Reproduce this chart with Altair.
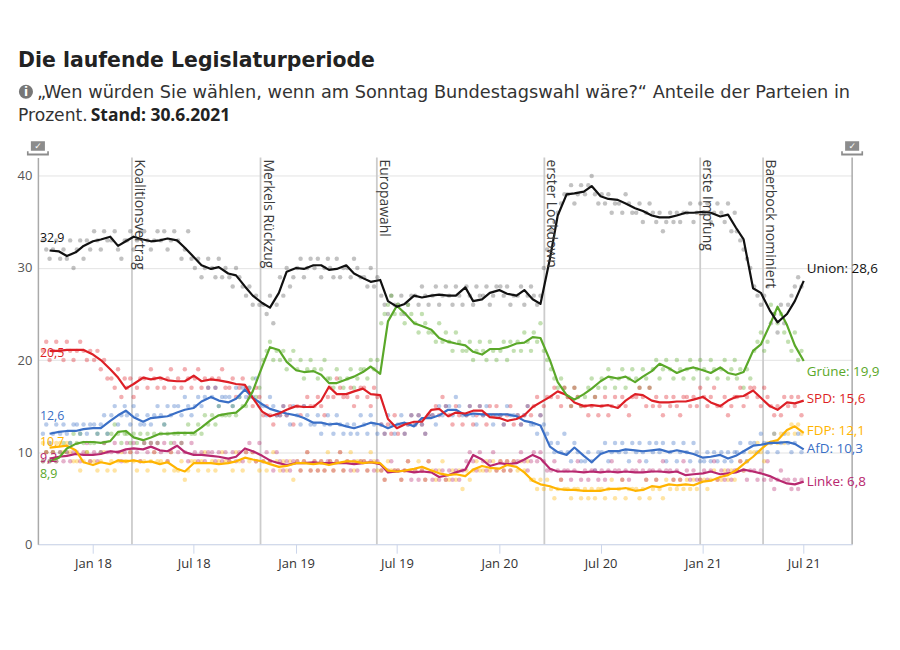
import altair as alt
import pandas as pd


def month_list(y0, m0, y1, m1):
    out = []
    y, m = y0, m0
    while (y, m) <= (y1, m1):
        out.append((y, m))
        m += 1
        if m > 12:
            y, m = y + 1, 1
    return out


# ---------------- data ----------------
PARTIES = ["Union", "Grüne", "SPD", "FDP", "AfD", "Linke"]
LINE_COLORS = ["#111111", "#5aa829", "#dd1f26", "#ffb400", "#3a6fc6", "#b8286f"]
DOT_COLORS = ["#555555", "#5aa829", "#dd1f26", "#ffb400", "#3a6fc6", "#b8286f"]

# smoothed trend, sampled on the 1st and 15th of each month
GRID_DATES = (["2017-10-15"]
              + [f"{y}-{m:02d}-{d:02d}" for (y, m) in month_list(2017, 11, 2021, 6) for d in (1, 15)]
              + ["2021-07-01"])

UNION = [31.9, 31.8, 31.3, 31.7, 32.4, 32.9, 33.1, 33.4, 32.4, 32.9, 33.4, 33.1, 32.9, 33.0, 33.2,
         33.0, 32.2, 31.2, 30.3, 29.9, 30.1, 29.4, 29.2, 28.0, 27.0, 26.2, 25.7, 27.3, 29.6, 30.0,
         29.9, 30.3, 30.3, 29.8, 29.9, 30.3, 29.4, 28.9, 28.5, 28.7, 26.4, 25.8, 26.1, 27.0, 26.8,
         27.0, 27.1, 27.0, 27.0, 27.9, 26.4, 26.6, 27.3, 27.6, 27.2, 27.0, 27.6, 26.6, 26.1, 31.0,
         35.7, 38.0, 38.1, 38.3, 38.9, 37.8, 37.5, 37.4, 37.0, 36.5, 36.2, 35.7, 35.5, 35.5, 35.7,
         36.0, 36.0, 36.1, 36.0, 35.6, 35.8, 34.4, 33.1, 27.8, 27.3, 25.4, 24.1, 25.0, 26.4, 28.6]
GRUENE = [9.0, 9.4, 10.4, 10.9, 11.1, 11.1, 11.0, 11.2, 12.2, 12.3, 11.6, 11.3, 11.6, 12.0, 12.0,
          12.1, 12.1, 12.1, 12.7, 13.5, 14.0, 14.2, 14.3, 15.1, 16.6, 19.3, 21.4, 21.1, 19.8, 18.9,
          18.7, 18.8, 18.4, 17.5, 17.5, 17.9, 18.2, 18.7, 19.3, 18.5, 24.2, 25.9, 25.1, 24.0, 23.7,
          23.3, 22.4, 22.0, 21.8, 21.6, 20.9, 20.6, 21.2, 21.2, 21.4, 21.8, 21.9, 22.5, 22.4, 20.0,
          17.6, 16.2, 15.7, 16.3, 16.9, 17.7, 18.2, 18.0, 18.2, 17.6, 18.2, 18.8, 19.6, 19.1, 18.6,
          19.0, 19.2, 18.9, 18.6, 19.2, 18.6, 18.4, 18.7, 21.0, 21.7, 23.8, 25.8, 23.8, 21.6, 19.9]
SPD = [21.0, 21.0, 21.1, 21.1, 21.1, 20.6, 20.0, 19.0, 18.1, 16.9, 17.4, 18.1, 17.9, 18.1, 17.8,
       17.7, 17.7, 18.3, 17.7, 17.9, 17.8, 17.6, 17.4, 17.3, 15.9, 14.4, 13.9, 14.2, 14.6, 15.0,
       14.9, 14.9, 15.6, 17.1, 16.3, 16.3, 16.6, 16.9, 16.3, 16.2, 13.6, 12.6, 13.0, 13.3, 13.3,
       14.6, 14.7, 13.9, 14.3, 14.2, 14.5, 14.5, 13.8, 13.7, 13.4, 13.6, 14.0, 14.9, 15.4, 16.0,
       16.6, 16.2, 15.4, 15.0, 15.1, 15.0, 15.1, 14.8, 15.6, 16.3, 16.2, 15.6, 15.4, 15.4, 15.5,
       15.5, 15.7, 16.0, 15.4, 15.0, 15.6, 16.0, 16.1, 16.7, 15.9, 15.0, 14.6, 15.4, 15.3, 15.6]
FDP = [10.5, 10.6, 10.7, 10.2, 8.9, 8.6, 8.9, 8.7, 9.1, 9.0, 9.1, 8.9, 9.0, 8.7, 8.9,
       8.2, 7.9, 8.8, 8.8, 8.8, 8.7, 8.8, 9.0, 9.4, 9.2, 9.0, 8.7, 8.4, 8.5, 8.8,
       8.8, 8.7, 8.8, 8.6, 8.8, 9.0, 9.0, 8.8, 8.9, 8.8, 8.0, 7.9, 8.0, 8.2, 8.4,
       8.0, 7.7, 7.5, 7.6, 7.4, 8.1, 8.5, 8.3, 8.2, 8.6, 8.4, 7.8, 6.9, 6.5, 6.3,
       6.0, 5.9, 5.9, 5.8, 5.8, 5.8, 6.0, 6.0, 6.1, 5.8, 5.9, 6.3, 6.2, 6.5, 6.4,
       6.5, 6.4, 6.8, 6.9, 7.3, 7.5, 8.0, 8.7, 9.5, 10.3, 11.1, 11.3, 12.4, 12.8, 12.1]
AFD = [12.0, 12.2, 12.3, 12.3, 12.5, 12.6, 12.6, 13.4, 14.0, 14.5, 13.8, 13.3, 13.7, 13.8, 13.9,
       14.3, 14.6, 14.8, 15.5, 16.0, 15.6, 15.4, 15.8, 16.8, 15.9, 15.2, 14.7, 14.4, 14.2, 14.0,
       13.7, 13.2, 13.2, 13.0, 13.1, 12.8, 12.6, 12.9, 13.2, 13.0, 12.6, 13.0, 13.2, 12.8, 13.7,
       13.7, 14.0, 14.6, 14.6, 14.0, 14.2, 14.1, 14.1, 14.1, 14.1, 13.9, 13.4, 13.2, 12.9, 10.6,
       10.0, 9.7, 10.5, 9.6, 8.9, 9.8, 10.1, 10.1, 10.3, 10.2, 10.1, 10.2, 10.3, 10.0, 10.2,
       10.0, 9.8, 9.4, 9.5, 9.7, 9.3, 9.6, 10.1, 10.7, 10.8, 11.0, 11.0, 11.1, 10.9, 10.3]
LINKE = [9.3, 9.5, 9.6, 9.8, 9.7, 9.7, 9.8, 10.1, 10.0, 10.3, 10.4, 10.3, 10.6, 10.2, 10.1,
         10.7, 10.0, 9.7, 9.7, 9.6, 9.5, 9.3, 9.5, 10.4, 10.1, 9.6, 9.1, 8.8, 8.6, 8.8,
         8.8, 8.9, 8.8, 8.8, 8.8, 8.8, 8.7, 8.8, 8.9, 8.7, 7.8, 7.9, 8.0, 7.8, 7.9,
         7.8, 7.3, 7.5, 7.8, 8.1, 9.7, 9.2, 8.5, 8.8, 8.7, 8.8, 9.2, 9.7, 9.3, 8.2,
         7.9, 7.9, 7.9, 7.8, 7.9, 7.8, 7.9, 7.8, 7.9, 7.8, 7.8, 7.9, 7.9, 7.8, 7.9,
         7.5, 7.6, 7.7, 7.9, 7.6, 7.7, 7.8, 8.1, 7.9, 7.7, 7.4, 7.0, 6.6, 6.5, 6.8]

# individual polls, five per month (Oct 2017 .. Jun 2021)
POLL_MONTHS = month_list(2017, 10, 2021, 6)
POLL_DAYS = [3, 9, 15, 21, 27]
UNION_POLLS = [
    [33, 32, 31, 32, 33], [31, 32, 31, 33, 30], [32, 33, 31, 33, 32],
    [34, 33, 32, 34, 33], [33, 34, 32, 31, 33], [33, 34, 32, 33, 34], [34, 33, 32, 33, 34],
    [33, 34, 32, 33, 34], [33, 31, 32, 34, 31], [30, 31, 29, 30, 31], [30, 29, 31, 29, 30],
    [29, 28, 30, 29, 28], [27, 28, 26, 27, 26], [26, 25, 27, 24, 26], [29, 27, 30, 28, 29],
    [30, 31, 29, 30, 31], [30, 31, 29, 30, 31], [30, 29, 31, 29, 30], [30, 29, 31, 30, 29],
    [29, 28, 30, 28, 29], [27, 26, 25, 27, 26], [26, 27, 25, 26, 27], [27, 26, 28, 27, 26],
    [27, 28, 26, 27, 28], [27, 26, 28, 27, 26], [28, 27, 26, 28, 27], [27, 28, 26, 27, 28],
    [28, 27, 28, 26, 27], [27, 28, 26, 27, 28], [27, 26, 27, 30, 32], [34, 35, 36, 37, 38],
    [38, 39, 37, 38, 39], [38, 39, 40, 38, 37], [38, 37, 38, 36, 37], [37, 36, 38, 37, 36],
    [36, 37, 35, 36, 37], [36, 35, 36, 34, 35], [36, 35, 36, 35, 36], [36, 37, 35, 36, 37],
    [36, 37, 35, 36, 37], [36, 35, 37, 34, 36], [34, 33, 32, 31, 30], [28, 27, 26, 27, 28],
    [24, 25, 23, 26, 24], [26, 27, 28, 29, 28]]
GRUENE_POLLS = [
    [9, 10, 9, 10, 9], [10, 11, 10, 11, 12], [11, 12, 11, 10, 11],
    [11, 12, 10, 11, 12], [12, 13, 12, 11, 12], [12, 11, 12, 11, 12], [11, 12, 11, 12, 11],
    [12, 13, 12, 11, 12], [12, 11, 12, 13, 12], [12, 13, 12, 14, 13], [14, 13, 15, 14, 14],
    [14, 15, 14, 16, 15], [15, 17, 18, 16, 17], [20, 21, 22, 20, 21], [20, 21, 19, 20, 21],
    [19, 20, 18, 19, 20], [19, 18, 19, 20, 18], [18, 17, 19, 18, 17], [18, 19, 17, 18, 19],
    [19, 18, 20, 19, 20], [24, 25, 26, 27, 25], [26, 25, 24, 26, 25], [24, 23, 25, 24, 23],
    [23, 22, 24, 22, 23], [22, 21, 23, 22, 21], [21, 22, 20, 21, 22], [21, 20, 22, 21, 20],
    [21, 22, 20, 22, 21], [22, 21, 23, 22, 21], [23, 22, 24, 21, 20], [19, 18, 17, 18, 17],
    [16, 15, 17, 16, 15], [16, 17, 18, 16, 17], [18, 17, 19, 18, 17], [18, 19, 17, 18, 19],
    [18, 17, 19, 18, 17], [19, 20, 18, 19, 20], [19, 18, 20, 19, 18], [19, 20, 18, 19, 20],
    [19, 18, 20, 19, 18], [19, 20, 18, 19, 20], [18, 19, 17, 19, 18], [21, 22, 23, 21, 22],
    [26, 25, 24, 25, 23], [22, 21, 23, 20, 21]]
SPD_POLLS = [
    [21, 22, 20, 21, 22], [21, 20, 22, 21, 20], [21, 22, 21, 20, 21],
    [20, 21, 19, 20, 18], [18, 17, 19, 16, 18], [17, 18, 16, 17, 18], [18, 17, 19, 18, 17],
    [18, 17, 18, 19, 17], [18, 17, 19, 18, 17], [18, 19, 17, 18, 17], [18, 17, 18, 19, 17],
    [17, 18, 16, 17, 18], [17, 16, 15, 17, 16], [14, 15, 14, 13, 14], [14, 15, 14, 15, 13],
    [15, 14, 15, 16, 15], [15, 16, 15, 14, 16], [17, 16, 18, 17, 16], [16, 17, 15, 16, 17],
    [17, 16, 15, 17, 16], [13, 12, 13, 12, 14], [12, 13, 12, 13, 14], [13, 14, 13, 12, 14],
    [14, 15, 14, 16, 15], [14, 13, 15, 14, 13], [14, 15, 13, 14, 15], [14, 13, 15, 14, 15],
    [14, 13, 14, 15, 13], [14, 13, 14, 15, 14], [15, 16, 14, 15, 16], [16, 17, 16, 15, 17],
    [16, 15, 17, 16, 15], [15, 14, 15, 16, 14], [15, 16, 14, 15, 16], [15, 16, 15, 14, 16],
    [16, 17, 16, 15, 17], [15, 16, 15, 14, 16], [15, 16, 15, 14, 16], [16, 15, 16, 15, 17],
    [16, 15, 16, 17, 15], [15, 16, 14, 15, 16], [16, 17, 15, 16, 17], [17, 16, 15, 17, 16],
    [15, 14, 15, 14, 16], [15, 16, 15, 16, 14]]
FDP_POLLS = [
    [11, 10, 11, 10, 11], [11, 10, 11, 10, 9], [9, 8, 9, 10, 9],
    [9, 8, 9, 10, 8], [9, 8, 9, 10, 9], [9, 10, 9, 8, 9], [9, 8, 9, 10, 9],
    [9, 8, 9, 10, 8], [8, 9, 7, 8, 9], [9, 8, 9, 10, 8], [9, 8, 9, 10, 9],
    [9, 8, 10, 9, 8], [10, 9, 10, 9, 8], [9, 8, 9, 10, 9], [8, 9, 8, 9, 7],
    [9, 8, 9, 10, 8], [9, 8, 9, 8, 10], [9, 8, 9, 10, 8], [9, 10, 8, 9, 9],
    [9, 8, 10, 9, 8], [8, 7, 9, 8, 8], [8, 7, 8, 9, 8], [8, 9, 8, 7, 9],
    [8, 7, 8, 9, 7], [7, 8, 7, 8, 6], [8, 7, 8, 9, 8], [8, 9, 8, 9, 8],
    [9, 8, 9, 8, 9], [8, 9, 8, 9, 7], [7, 6, 7, 6, 7], [6, 5, 6, 7, 6],
    [6, 5, 6, 6, 5], [6, 5, 6, 5, 6], [6, 5, 6, 7, 5], [6, 7, 5, 6, 6],
    [6, 5, 6, 7, 5], [6, 7, 6, 5, 7], [6, 7, 6, 7, 6], [7, 6, 7, 6, 7],
    [7, 6, 7, 8, 7], [7, 8, 7, 8, 7], [8, 9, 8, 9, 10], [10, 11, 10, 9, 11],
    [11, 12, 11, 12, 11], [12, 13, 12, 13, 12]]
AFD_POLLS = [
    [12, 13, 11, 12, 13], [12, 13, 12, 11, 13], [13, 12, 13, 12, 13],
    [13, 12, 13, 14, 12], [14, 15, 13, 14, 15], [14, 13, 15, 14, 13], [13, 14, 13, 14, 15],
    [14, 13, 15, 14, 15], [15, 14, 16, 15, 14], [15, 16, 15, 16, 17], [16, 17, 15, 16, 16],
    [16, 15, 17, 16, 17], [16, 17, 16, 18, 15], [15, 14, 16, 15, 14], [14, 15, 14, 13, 15],
    [14, 13, 15, 14, 13], [13, 14, 12, 13, 14], [13, 12, 14, 13, 12], [13, 12, 13, 12, 14],
    [13, 12, 14, 13, 12], [13, 12, 14, 13, 12], [13, 14, 12, 13, 14], [13, 14, 13, 12, 14],
    [14, 13, 15, 14, 15], [15, 14, 16, 15, 14], [14, 15, 14, 13, 15], [14, 15, 14, 13, 14],
    [14, 13, 15, 14, 14], [14, 13, 14, 15, 13], [13, 12, 14, 13, 12], [11, 10, 11, 10, 12],
    [10, 9, 11, 10, 9], [9, 10, 9, 8, 10], [10, 11, 9, 10, 11], [10, 11, 10, 9, 11],
    [10, 11, 10, 9, 11], [10, 11, 10, 11, 9], [10, 11, 9, 10, 11], [10, 9, 11, 10, 9],
    [9, 10, 9, 10, 9], [10, 9, 10, 9, 10], [10, 11, 10, 9, 11], [11, 10, 12, 11, 10],
    [11, 12, 10, 11, 12], [11, 10, 11, 12, 10]]
LINKE_POLLS = [
    [9, 10, 9, 10, 9], [10, 9, 10, 9, 10], [10, 9, 10, 11, 9],
    [10, 9, 10, 11, 10], [10, 11, 10, 9, 10], [11, 10, 11, 10, 9], [11, 10, 11, 10, 11],
    [10, 11, 9, 10, 11], [10, 11, 10, 9, 11], [10, 9, 10, 9, 10], [10, 9, 10, 9, 10],
    [9, 10, 9, 10, 9], [10, 11, 10, 9, 11], [9, 10, 9, 8, 10], [9, 8, 9, 8, 9],
    [9, 8, 9, 10, 8], [9, 8, 9, 8, 9], [9, 8, 9, 10, 8], [9, 8, 9, 8, 9],
    [9, 8, 9, 8, 9], [8, 7, 8, 9, 8], [8, 7, 8, 9, 7], [8, 7, 8, 7, 9],
    [7, 8, 7, 8, 7], [8, 7, 8, 7, 8], [9, 10, 9, 8, 10], [9, 8, 9, 10, 8],
    [9, 8, 9, 8, 9], [9, 10, 9, 8, 9], [10, 9, 10, 9, 8], [8, 9, 8, 7, 8],
    [8, 7, 8, 9, 7], [8, 7, 8, 8, 7], [8, 7, 8, 9, 8], [8, 7, 8, 7, 8],
    [8, 9, 8, 7, 8], [8, 7, 8, 9, 8], [8, 7, 8, 7, 9], [8, 7, 8, 7, 7],
    [8, 7, 8, 9, 7], [8, 7, 8, 7, 8], [8, 9, 8, 7, 8], [8, 7, 8, 7, 9],
    [7, 6, 7, 8, 7], [7, 6, 7, 6, 7]]

ELECTION_2017 = [32.9, 8.9, 20.5, 10.7, 12.6, 9.2]
ELECTION_DATES = ["2017-09-24", "2021-09-26"]

EVENT_DATES = ["2018-03-12", "2018-10-29", "2019-05-26", "2020-03-22", "2020-12-27", "2021-04-19"]
EVENT_LABELS = ["Koalitionsvertrag", "Merkels Rückzug", "Europawahl", "erster Lockdown",
                "erste Impfung", "Baerbock nominiert"]

TICK_DATES = [(2018, 1), (2018, 7), (2019, 1), (2019, 7), (2020, 1), (2020, 7), (2021, 1), (2021, 7)]

TITLE = "Die laufende Legislaturperiode"
SUB1 = "„Wen würden Sie wählen, wenn am Sonntag Bundestagswahl wäre?“ Anteile der Parteien in"
SUB2 = "Prozent."
SUB2_BOLD = "Stand: 30.6.2021"

# ---------------- tables ----------------
TRENDS = [UNION, GRUENE, SPD, FDP, AFD, LINKE]
POLLS = [UNION_POLLS, GRUENE_POLLS, SPD_POLLS, FDP_POLLS, AFD_POLLS, LINKE_POLLS]

line_rows = []
for party, vals in zip(PARTIES, TRENDS):
    for d, v in zip(GRID_DATES, vals):
        line_rows.append({"date": d, "party": party, "value": v})
lines_df = pd.DataFrame(line_rows)

poll_rows = []
for party, plist in zip(PARTIES, POLLS):
    for (y, m), vals in zip(POLL_MONTHS, plist):
        for day, v in zip(POLL_DAYS, vals):
            poll_rows.append({"date": f"{y}-{m:02d}-{day:02d}", "party": party, "value": v})
polls_df = pd.DataFrame(poll_rows)

events_df = pd.DataFrame({"date": EVENT_DATES, "label": EVENT_LABELS})


def de(v):
    return f"{v:.1f}".replace(".", ",")


FONT = "Open Sans"
xscale = alt.Scale(type="utc", domain=[alt.DateTime(year=2017, month=9, date=24, utc=True),
                                       alt.DateTime(year=2021, month=9, date=26, utc=True)])
yscale = alt.Scale(domain=[0, 42], nice=False, zero=True)
xaxis = alt.Axis(values=[alt.DateTime(year=y, month=m, date=1, utc=True) for y, m in TICK_DATES],
                 labelExpr="utcFormat(datum.value, '%b %y')", grid=False, domainColor="#ccd6eb",
                 tickColor="#ccd6eb", tickSize=9, labelPadding=4, labelColor="#333333",
                 labelFontSize=13, labelFont=FONT, title=None)
yaxis = alt.Axis(values=[0, 10, 20, 30, 40], grid=True, gridColor="#e3e3e3", domainColor="#aaaaaa",
                 domainWidth=1.5, ticks=False, labelPadding=6, labelColor="#555555",
                 labelFontSize=13, labelFont=FONT, title=None)
X = alt.X("date:T", scale=xscale, axis=xaxis)
Y = alt.Y("value:Q", scale=yscale, axis=yaxis)

layers = []

# event rules and election rule
layers.append(alt.Chart(events_df).mark_rule(color="#cccccc", strokeWidth=1.8).encode(x=X))
layers.append(alt.Chart(pd.DataFrame({"date": [ELECTION_DATES[1]]}))
              .mark_rule(color="#aaaaaa", strokeWidth=1.5).encode(x=X))

# poll dots
layers.append(alt.Chart(polls_df).mark_circle(size=20, opacity=0.36).encode(
    x=X, y=Y,
    color=alt.Color("party:N", scale=alt.Scale(domain=PARTIES, range=DOT_COLORS), legend=None)))

# trend lines (Union drawn last)
order = ["Linke", "FDP", "AfD", "SPD", "Grüne", "Union"]
for p in order:
    i = PARTIES.index(p)
    layers.append(alt.Chart(lines_df[lines_df.party == p]).mark_line(
        strokeWidth=2.2, color=LINE_COLORS[i], strokeJoin="round").encode(x=X, y=Y))

# event labels
layers.append(alt.Chart(events_df).mark_text(
    angle=90, align="left", baseline="bottom", fontSize=14, font=FONT, color="#3a3a3a").encode(
    x=X, y=alt.value(2), text="label:N"))

# start labels (election 2017) and end labels
START_DY = {"Union": -3, "Grüne": 12, "SPD": -2, "FDP": -4, "AfD": -12, "Linke": -2}
END_DY = {"Union": -12, "Grüne": 11, "SPD": -2, "FDP": -2, "AfD": 0, "Linke": 0}
for i, p in enumerate(PARTIES):
    sdf = pd.DataFrame({"date": [ELECTION_DATES[0]], "value": [ELECTION_2017[i]],
                        "t": [de(ELECTION_2017[i])]})
    layers.append(alt.Chart(sdf).mark_text(
        align="left", baseline="middle", dx=2, dy=START_DY[p], fontSize=12.5, font=FONT,
        color=LINE_COLORS[i]).encode(x=X, y=Y, text="t:N"))
    last = TRENDS[i][-1]
    edf = pd.DataFrame({"date": [GRID_DATES[-1]], "value": [last], "t": [f"{p}: {de(last)}"]})
    layers.append(alt.Chart(edf).mark_text(
        align="left", baseline="middle", dx=3, dy=END_DY[p], fontSize=13.5, font=FONT,
        color=LINE_COLORS[i]).encode(x=X, y=Y, text="t:N"))

# ballot-box icons at the two election dates
BOX = ("M-0.64,-0.66 L0.64,-0.66 L0.64,0.2 L-0.64,0.2 Z "
       "M-1,0.25 L-0.85,0.25 L-0.85,0.45 L0.85,0.45 L0.85,0.25 L1,0.25 L1,0.64 L-1,0.64 Z")
edates = pd.DataFrame({"date": ELECTION_DATES})
layers.append(alt.Chart(edates).mark_point(shape=BOX, filled=True, size=484, color="#8c8c8c",
                                           opacity=1, strokeWidth=0).encode(x=X, y=alt.value(-9)))
layers.append(alt.Chart(edates).mark_text(text="✓", fontSize=9, fontWeight="bold", color="white",
                                          font="DejaVu Sans", baseline="middle").encode(
    x=X, y=alt.value(-12)))

# header
one = pd.DataFrame({"a": [0]})
layers.append(alt.Chart(one).mark_text(text=TITLE, align="left", baseline="alphabetic",
                                       font="DejaVu Sans", fontWeight="bold", fontSize=20.5,
                                       color="#222222").encode(x=alt.value(-20), y=alt.value(-91)))
layers.append(alt.Chart(one).mark_circle(size=200, color="#777777", opacity=1).encode(
    x=alt.value(-12), y=alt.value(-66)))
layers.append(alt.Chart(one).mark_text(text="i", align="center", baseline="middle",
                                       font="DejaVu Sans", fontWeight="bold", fontSize=12,
                                       color="white").encode(x=alt.value(-12), y=alt.value(-66)))
layers.append(alt.Chart(one).mark_text(text=SUB1, align="left", baseline="alphabetic",
                                       font="DejaVu Sans", fontSize=17.8, color="#333333").encode(
    x=alt.value(-1), y=alt.value(-60)))
layers.append(alt.Chart(one).mark_text(text=SUB2, align="left", baseline="alphabetic",
                                       font="DejaVu Sans", fontSize=17.2, color="#333333").encode(
    x=alt.value(-20), y=alt.value(-37)))
layers.append(alt.Chart(one).mark_text(text=SUB2_BOLD, align="left", baseline="alphabetic",
                                       font=FONT, fontWeight="bold", fontSize=17.5,
                                       color="#222222").encode(x=alt.value(53), y=alt.value(-37)))

chart = alt.layer(*layers).properties(
    width=817, height=388,
    padding={"left": 30, "top": 149, "right": 40, "bottom": 70},
    autosize=alt.AutoSizeParams(type="none"),
    background="white",
).resolve_scale(color="independent").configure_view(stroke=None)

chart.save("out.html", embed_options={"renderer": "svg", "actions": False})
